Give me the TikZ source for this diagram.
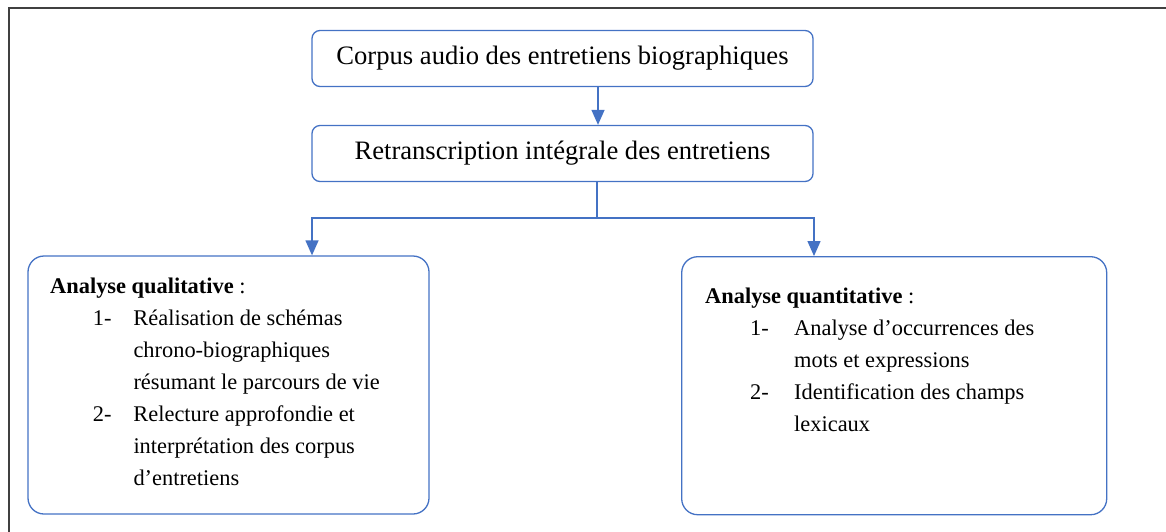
\documentclass[tikz,border=0pt]{standalone}
\usepackage{fontspec}
\setmainfont{Liberation Serif}
\usepackage{tikz}
\usetikzlibrary{arrows.meta, positioning, calc}
\definecolor{myblue}{RGB}{68,114,196}
\definecolor{myframe}{RGB}{64,64,64}
\tikzset{
  stepbox/.style={rectangle, draw=myblue, line width=1.3pt, inner sep=0pt,
    minimum width=501pt, minimum height=56pt, rounded corners=8pt,
    font=\fontsize{26.6}{32}\selectfont},
  bigbox/.style={rectangle, draw=myblue, line width=1.3pt, inner sep=0pt,
    minimum width=401pt, minimum height=258pt, rounded corners=16pt},
  listtxt/.style={inner sep=0pt, anchor=base west,
    font=\fontsize{22.4}{32}\selectfont},
  arrow/.style={-{Triangle[width=13pt,length=15pt]}, line width=1.3pt, color=myblue},
  line/.style={line width=1.3pt, color=myblue}
}

\begin{document}
\begin{tikzpicture}[x=1pt, y=-1pt]
  \useasboundingbox (0,0) rectangle (1166,531);
  % Outer frame
  \draw[myframe, line width=1.6pt] (9,540) -- (9,8) -- (1175,8);

  % Top boxes
  \node[stepbox] (corpus) at (562.5,58.5) {Corpus audio des entretiens biographiques};
  \node[stepbox] (retr) at (562.5,153.5) {Retranscription intégrale des entretiens};

  % Analysis boxes
  \node[bigbox, minimum width=401pt] (qual) at (228.5,385) {};
  \node[bigbox, minimum width=425pt] (quant) at (894.2,385.7) {};

  % Box contents
  \node[listtxt] (qualtxt) at (50,293) {%
    \begin{tabular}[t]{@{}p{42.7pt}@{}p{40.6pt}@{}l@{}}
      \multicolumn{3}{@{}l@{}}{\textbf{Analyse qualitative} :}\\
      & 1- & Réalisation de schémas\\
      &    & chrono-biographiques\\
      &    & résumant le parcours de vie\\
      & 2- & Relecture approfondie et\\
      &    & interprétation des corpus\\
      &    & d’entretiens
    \end{tabular}};
  \node[listtxt] (quanttxt) at (705,303) {%
    \begin{tabular}[t]{@{}p{45pt}@{}p{44pt}@{}l@{}}
      \multicolumn{3}{@{}l@{}}{\textbf{Analyse quantitative} :}\\
      & 1- & Analyse d’occurrences des\\
      &    & mots et expressions\\
      & 2- & Identification des champs\\
      &    & lexicaux
    \end{tabular}};

  % Connections
  \coordinate (lft) at (312,218);
  \coordinate (rgt) at (814,218);
  \draw[arrow] ([xshift=35.5pt]corpus.south) -- ([xshift=35.5pt]retr.north);
  \draw[arrow] ([xshift=34.5pt]retr.south) |- (lft) -- (lft |- qual.north);
  \draw[arrow] ([xshift=34.5pt]retr.south) |- (rgt) -- (rgt |- quant.north);
\end{tikzpicture}
\end{document}
